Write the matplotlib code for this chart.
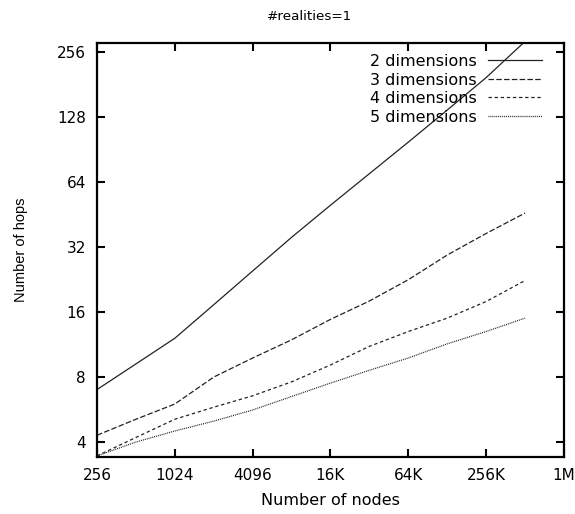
import matplotlib
matplotlib.use("Agg")
import matplotlib.pyplot as plt
from matplotlib.ticker import FixedLocator, NullLocator

plt.rcParams['font.family'] = ['DejaVu Sans']
plt.rcParams['lines.scale_dashes'] = False

nodes = [256, 512, 1024, 2048, 4096, 8192, 16384, 32768, 65536, 131072, 262144, 524288]
hops_2d = [7.0, 9.2, 12.1, 17.3, 24.8, 35.5, 50.0, 70.0, 98.0, 138.0, 195.0, 287.0]
hops_3d = [4.3, 5.1, 6.0, 8.0, 9.8, 11.9, 14.8, 18.0, 22.6, 29.4, 37.0, 46.0]
hops_4d = [3.45, 4.2, 5.1, 5.8, 6.55, 7.6, 9.1, 11.1, 13.0, 15.0, 17.9, 22.4]
hops_5d = [3.45, 4.0, 4.5, 5.0, 5.63, 6.5, 7.5, 8.6, 9.8, 11.4, 13.0, 15.0]
labels = ["2 dimensions", "3 dimensions", "4 dimensions", "5 dimensions"]

x_ticks = [256, 1024, 4096, 16384, 65536, 262144, 1048576]
x_ticklabels = ["256", "1024", "4096", "16K", "64K", "256K", "1M"]
y_ticks = [4, 8, 16, 32, 64, 128, 256]
y_ticklabels = ["4", "8", "16", "32", "64", "128", "256"]

W, H = 575, 514
fig = plt.figure(figsize=(W / 100, H / 100), dpi=100)
ax = fig.add_axes([97 / W, 1 - 457 / H, (564 - 97) / W, (457 - 43) / H])

col = '#222222'
ax.plot(nodes, hops_2d, color=col, lw=0.9, linestyle='-', label=labels[0])
ax.plot(nodes, hops_3d, color=col, lw=0.9, dashes=(4.0, 1.6), label=labels[1])
ax.plot(nodes, hops_4d, color=col, lw=0.9, dashes=(2.4, 2.0), label=labels[2])
ax.plot(nodes, hops_5d, color=col, lw=0.9, dashes=(0.7, 0.7), label=labels[3])

ax.set_xscale('log', base=2)
ax.set_yscale('log', base=2)
ax.set_xlim(256, 1048576)
ax.set_ylim(3.41, 282)

ax.xaxis.set_major_locator(FixedLocator(x_ticks))
ax.xaxis.set_minor_locator(NullLocator())
ax.set_xticklabels(x_ticklabels)
ax.yaxis.set_major_locator(FixedLocator(y_ticks))
ax.yaxis.set_minor_locator(NullLocator())
ax.set_yticklabels(y_ticklabels)

ax.tick_params(which='major', direction='in', length=6, width=1.5,
               top=True, right=True, labelsize=11, colors='black', pad=8)
for s in ax.spines.values():
    s.set_linewidth(1.6)
    s.set_color('black')

ax.set_xlabel("Number of nodes", fontsize=11.5, labelpad=7)
ax.set_ylabel("Number of hops", fontsize=10.5, family=['Liberation Sans', 'DejaVu Sans'])
ax.yaxis.set_label_coords(-0.148, 0.5)

fig.text(310 / W, 1 - 16 / H, "#realities=1", ha='center', va='center', fontsize=9.7)

leg = ax.legend(loc='upper right', bbox_to_anchor=((542 - 97) / 467, (457 - 54) / 414),
                frameon=False, markerfirst=False, fontsize=11.5, handlelength=3.4,
                handletextpad=0.7, labelspacing=0.22, borderpad=0, borderaxespad=0)

fig.savefig("out.png", dpi=100)
